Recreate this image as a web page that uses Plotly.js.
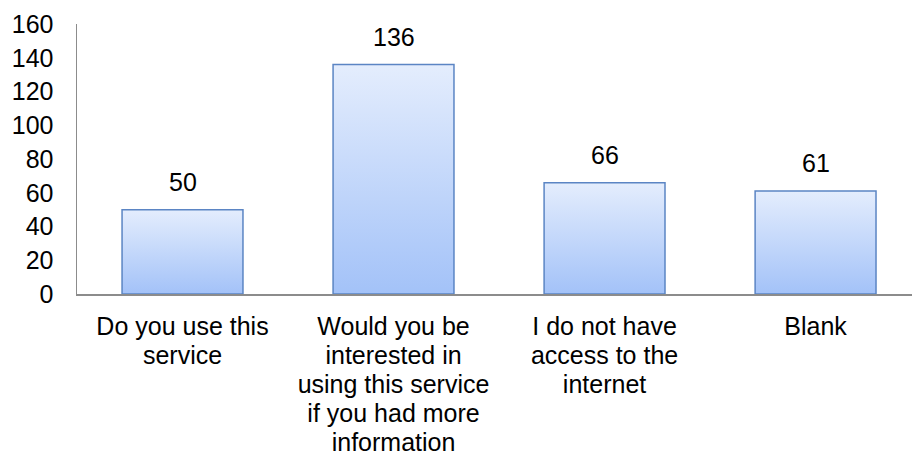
<!DOCTYPE html>
<html>
<head>
<meta charset="utf-8">
<script src="https://cdn.plot.ly/plotly-3.0.1.min.js"></script>
<style>html,body{margin:0;padding:0;background:#fff;}</style>
</head>
<body>
<div id="chart" style="width:912px;height:459px;"></div>
<script>
var categories = [
  "Do you use this<br>service",
  "Would you be<br>interested in<br>using this service<br>if you had more<br>information",
  "I do not have<br>access to the<br>internet",
  "Blank"
];
var values = [50, 136, 66, 61];
var yTicks = [0, 20, 40, 60, 80, 100, 120, 140, 160];

var FONT = "Liberation Sans, Arial, sans-serif";

var trace = {
  type: "bar",
  x: categories,
  y: values,
  width: 0.573,
  marker: { color: "#c4d7fa", line: { color: "#5b85c4", width: 1.5 } },
  hoverinfo: "none"
};

var annotations = values.map(function (v, i) {
  return {
    x: categories[i], y: v, xref: "x", yref: "y",
    text: String(v), showarrow: false,
    yanchor: "bottom", yshift: 12,
    font: { family: FONT, size: 25, color: "#000" }
  };
});

var layout = {
  width: 912, height: 459,
  margin: { l: 77, r: 0, t: 24, b: 165 },
  paper_bgcolor: "#fff", plot_bgcolor: "#fff",
  showlegend: false,
  font: { family: FONT, size: 25, color: "#000" },
  xaxis: {
    type: "category",
    range: [-0.5, 3.457],
    showline: true, linecolor: "#8c8c8c", linewidth: 1.5,
    showgrid: false, zeroline: false, ticks: "",
    tickfont: { family: FONT, size: 25, color: "#000" },
    ticklabelstandoff: 9,
    fixedrange: true
  },
  yaxis: {
    range: [0, 160],
    tickvals: yTicks,
    ticktext: yTicks.map(String),
    showline: true, linecolor: "#8c8c8c", linewidth: 1.5,
    showgrid: false, zeroline: false, ticks: "",
    tickfont: { family: FONT, size: 25, color: "#000" },
    ticklabelstandoff: 17,
    fixedrange: true
  },
  annotations: annotations
};

Plotly.newPlot("chart", [trace], layout, { displayModeBar: false, staticPlot: true }).then(function (gd) {
  var svg = gd.querySelector("svg.main-svg");
  var ns = "http://www.w3.org/2000/svg";
  var defs = svg.querySelector("defs") || svg.insertBefore(document.createElementNS(ns, "defs"), svg.firstChild);
  var grad = document.createElementNS(ns, "linearGradient");
  grad.setAttribute("id", "barGrad");
  grad.setAttribute("x1", "0"); grad.setAttribute("y1", "0");
  grad.setAttribute("x2", "0"); grad.setAttribute("y2", "1");
  [["0", "#e4edfd"], ["1", "#a3c2f8"]].forEach(function (s) {
    var st = document.createElementNS(ns, "stop");
    st.setAttribute("offset", s[0]);
    st.setAttribute("stop-color", s[1]);
    grad.appendChild(st);
  });
  defs.appendChild(grad);
  gd.querySelectorAll(".bars .point path").forEach(function (p) {
    p.style.fill = "url(#barGrad)";
  });
  // tighter line spacing for the category labels, as in the reference
  var k = 1.16 / 1.3;
  gd.querySelectorAll(".xtick text tspan.line").forEach(function (t) {
    var dy = parseFloat(t.getAttribute("dy"));
    if (isFinite(dy) && dy !== 0) t.setAttribute("dy", (dy * k).toFixed(4) + "em");
  });
});
</script>
</body>
</html>
